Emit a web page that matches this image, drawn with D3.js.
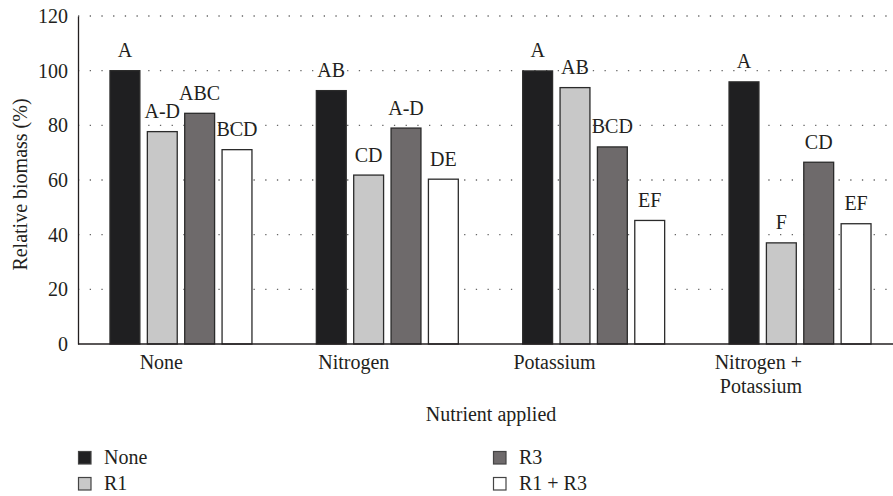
<!DOCTYPE html>
<html><head><meta charset="utf-8">
<script src="https://cdn.jsdelivr.net/npm/d3@7"></script>
<style>body{margin:0;background:#fff}svg{display:block}svg text{font-family:"Liberation Serif",serif !important}</style>
</head><body><svg id="c" width="893" height="496"></svg>
<script>
const categories = [["None"], ["Nitrogen"], ["Potassium"], ["Nitrogen +", "Potassium"]];
const seriesNames = ["None", "R1", "R3", "R1 + R3"];
const seriesColors = ["#1f1f21", "#c8c8c8", "#6e6a6b", "#ffffff"];
const valNone = [100, 92.7, 99.9, 95.9];
const valR1 = [77.7, 61.8, 93.8, 37.0];
const valR3 = [84.4, 79.0, 72.1, 66.5];
const valR1R3 = [71.1, 60.3, 45.2, 44.0];
const lettersNone = ["A", "AB", "A", "A"];
const lettersR1 = ["A-D", "CD", "AB", "F"];
const lettersR3 = ["ABC", "A-D", "BCD", "CD"];
const lettersR1R3 = ["BCD", "DE", "EF", "EF"];
const yTicks = [0, 20, 40, 60, 80, 100, 120];

const values = [valNone, valR1, valR3, valR1R3];
const letters = [lettersNone, lettersR1, lettersR3, lettersR1R3];
const TXT = "#231f20";
const FS = "20px";

const svg = d3.select("#c");
const L = 78, R = 903, T = 16, B = 344;
const x0 = d3.scaleBand().domain(d3.range(categories.length)).range([L, R]).paddingInner(0.312).paddingOuter(0.155);
const x1 = d3.scaleBand().domain(d3.range(seriesNames.length)).range([0, x0.bandwidth()]).paddingInner(0.2);
const y = d3.scaleLinear().domain([0, 120]).range([B, T]);

function txt(sel) {
  return sel.style("font-family", '"Liberation Serif", serif', "important")
    .style("font-size", FS).attr("fill", TXT);
}

// gridlines
svg.append("g").selectAll("line").data(yTicks.filter(d => d > 0)).join("line")
  .attr("x1", L).attr("x2", 893).attr("y1", d => y(d)).attr("y2", d => y(d))
  .attr("stroke", "#666").attr("stroke-width", 1.3).attr("stroke-dasharray", "1.3,10.4");

// y axis
const yAxis = d3.axisLeft(y).tickValues(yTicks).tickSize(0).tickPadding(10);
const gy = svg.append("g").attr("transform", `translate(${L},0)`).call(yAxis);
gy.attr("font-family", null).attr("font-size", null);
gy.select(".domain").attr("stroke", TXT).attr("stroke-width", 1.3);
gy.selectAll("text").call(txt);

// bars
categories.forEach((c, i) => {
  const g = svg.append("g").attr("transform", `translate(${x0(i)},0)`);
  seriesNames.forEach((s, j) => {
    g.append("rect").attr("x", x1(j)).attr("width", x1.bandwidth())
      .attr("y", y(values[j][i])).attr("height", y(0) - y(values[j][i]))
      .attr("fill", seriesColors[j]).attr("stroke", "#2b2b2b").attr("stroke-width", 1.3);
    g.append("text").attr("x", x1(j) + x1.bandwidth() / 2).attr("y", y(values[j][i]) - 13.5)
      .attr("text-anchor", "middle").call(txt).text(letters[j][i]);
  });
});

// x axis line
svg.append("line").attr("x1", L).attr("x2", 893).attr("y1", B).attr("y2", B)
  .attr("stroke", TXT).attr("stroke-width", 1.3);

// x labels (right-aligned at group centre, as in the original)
categories.forEach((c, i) => {
  const cx = x0(i) + x0.bandwidth() / 2 + 2;
  c.forEach((line, k) => {
    svg.append("text").attr("x", cx).attr("y", 369 + k * 24).attr("text-anchor", "end")
      .call(txt).text(line);
  });
});

svg.append("text").attr("x", 491).attr("y", 421).attr("text-anchor", "middle").call(txt).text("Nutrient applied");
svg.append("text").attr("transform", `translate(27,184.5) rotate(-90)`).attr("text-anchor", "middle")
  .call(txt).text("Relative biomass (%)");

// legend
const legPos = [[78, 458], [78, 484], [493, 458], [493, 484]];
seriesNames.forEach((s, j) => {
  const [lx, ly] = legPos[j];
  svg.append("rect").attr("x", lx + 0.5).attr("y", ly - 6.5).attr("width", 12.5).attr("height", 12.5)
    .attr("fill", seriesColors[j]).attr("stroke", "#444").attr("stroke-width", 1.2);
  svg.append("text").attr("x", lx + 26).attr("y", ly + 5.5).call(txt).text(s);
});
</script></body></html>
